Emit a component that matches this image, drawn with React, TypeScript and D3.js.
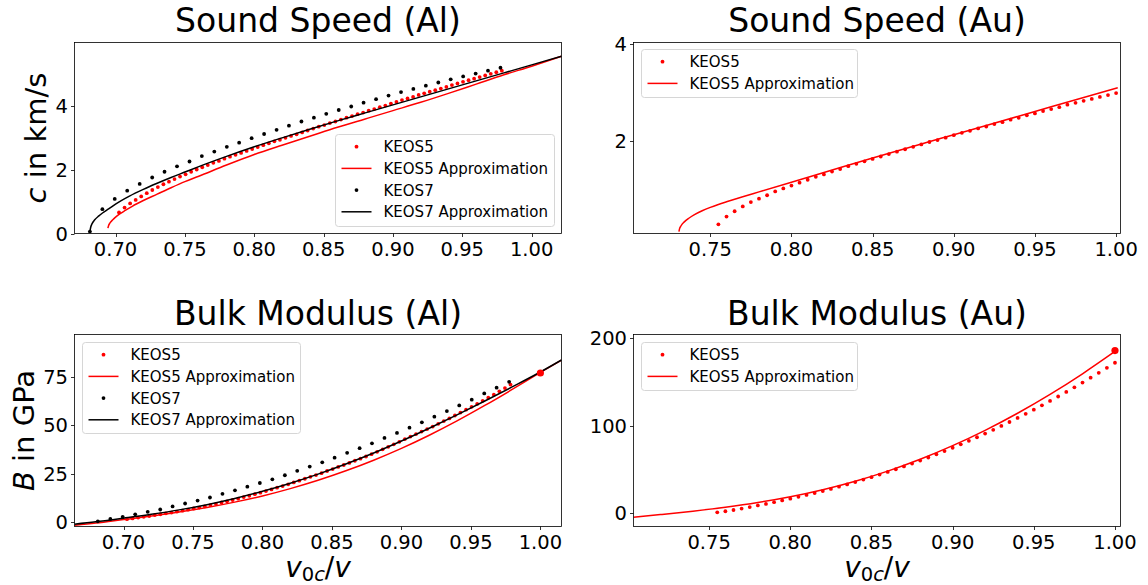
import React from "react";
import * as d3 from "d3";

// ---------------- DATA ----------------
// KEOS7 (Al) sample points
const KEOS7_X = [0.6815, 0.6905, 0.6994, 0.7084, 0.7174, 0.7264, 0.7353, 0.7443, 0.7533, 0.7622, 0.7712, 0.7802, 0.7891, 0.7981, 0.8071, 0.8161, 0.825, 0.834, 0.843, 0.8519, 0.8609, 0.8699, 0.8788, 0.8878, 0.8968, 0.9058, 0.9147, 0.9237, 0.9327, 0.9416, 0.9506, 0.9596, 0.9685, 0.9775];
const KEOS7_C = [0.06, 0.76, 1.08, 1.34, 1.55, 1.75, 1.93, 2.1, 2.25, 2.42, 2.56, 2.71, 2.84, 2.98, 3.11, 3.24, 3.37, 3.5, 3.62, 3.74, 3.86, 3.97, 4.09, 4.2, 4.31, 4.42, 4.52, 4.62, 4.72, 4.82, 4.91, 5.0, 5.09, 5.18];
const KEOS7_B = [0.3, 1.5, 2.6, 3.9, 5.2, 6.4, 8.0, 9.5, 11.0, 12.6, 14.5, 16.3, 18.2, 20.1, 22.0, 24.1, 26.4, 28.6, 30.8, 33.2, 35.7, 38.1, 40.6, 43.4, 46.0, 48.7, 51.5, 54.4, 57.3, 60.2, 63.2, 66.4, 69.4, 72.4];

// KEOS5 (Al) sample points
const AL5_X = [0.7025, 0.7065, 0.7105, 0.7145, 0.7185, 0.7225, 0.7265, 0.7305, 0.7345, 0.7385, 0.7425, 0.7465, 0.7505, 0.7545, 0.7585, 0.7625, 0.7665, 0.7705, 0.7745, 0.7785, 0.7825, 0.7865, 0.7905, 0.7945, 0.7985, 0.8025, 0.8065, 0.8105, 0.8145, 0.8185, 0.8225, 0.8265, 0.8305, 0.8345, 0.8385, 0.8425, 0.8465, 0.8505, 0.8545, 0.8585, 0.8625, 0.8665, 0.8705, 0.8745, 0.8785, 0.8825, 0.8865, 0.8905, 0.8945, 0.8985, 0.9025, 0.9065, 0.9105, 0.9145, 0.9185, 0.9225, 0.9265, 0.9305, 0.9345, 0.9385, 0.9425, 0.9465, 0.9505, 0.9545, 0.9585, 0.9625, 0.9665, 0.9705, 0.9745, 0.9785];
const AL5_C = [0.66, 0.81, 0.94, 1.05, 1.16, 1.26, 1.36, 1.45, 1.54, 1.62, 1.7, 1.78, 1.85, 1.93, 2.0, 2.07, 2.14, 2.21, 2.27, 2.34, 2.4, 2.46, 2.52, 2.58, 2.64, 2.7, 2.76, 2.82, 2.88, 2.93, 2.99, 3.05, 3.1, 3.16, 3.22, 3.28, 3.34, 3.39, 3.45, 3.5, 3.56, 3.62, 3.67, 3.73, 3.78, 3.84, 3.89, 3.95, 4.0, 4.06, 4.11, 4.17, 4.22, 4.27, 4.33, 4.38, 4.43, 4.48, 4.53, 4.58, 4.64, 4.69, 4.74, 4.79, 4.84, 4.89, 4.94, 4.99, 5.04, 5.09];
const AL5_B = [1.4, 1.8, 2.2, 2.6, 3.0, 3.5, 3.9, 4.4, 4.8, 5.3, 5.8, 6.3, 6.9, 7.4, 8.0, 8.7, 9.3, 10.0, 10.6, 11.3, 12.0, 12.8, 13.5, 14.3, 15.1, 15.9, 16.8, 17.7, 18.5, 19.4, 20.4, 21.3, 22.3, 23.3, 24.2, 25.2, 26.3, 27.3, 28.4, 29.4, 30.5, 31.6, 32.7, 33.8, 35.0, 36.2, 37.5, 38.8, 40.1, 41.4, 42.8, 44.1, 45.4, 46.7, 48.0, 49.3, 50.7, 52.1, 53.5, 55.0, 56.5, 58.0, 59.5, 61.0, 62.6, 64.2, 65.8, 67.5, 69.2, 71.0];

// KEOS5 (Au) sample points
const AU5_X = [0.755, 0.76, 0.765, 0.77, 0.775, 0.78, 0.785, 0.79, 0.795, 0.8, 0.805, 0.81, 0.815, 0.82, 0.825, 0.83, 0.835, 0.84, 0.845, 0.85, 0.855, 0.86, 0.865, 0.87, 0.875, 0.88, 0.885, 0.89, 0.895, 0.9, 0.905, 0.91, 0.915, 0.92, 0.925, 0.93, 0.935, 0.94, 0.945, 0.95, 0.955, 0.96, 0.965, 0.97, 0.975, 0.98, 0.985, 0.99, 0.995, 1.0];
const AU5_C = [0.28, 0.44, 0.55, 0.65, 0.74, 0.81, 0.88, 0.96, 1.02, 1.08, 1.14, 1.2, 1.26, 1.31, 1.37, 1.42, 1.48, 1.53, 1.58, 1.63, 1.68, 1.73, 1.78, 1.83, 1.88, 1.93, 1.98, 2.02, 2.07, 2.12, 2.17, 2.21, 2.26, 2.3, 2.35, 2.39, 2.44, 2.48, 2.53, 2.57, 2.62, 2.66, 2.7, 2.75, 2.79, 2.83, 2.87, 2.91, 2.95, 2.99];
const AU5_B = [1.0, 2.2, 3.6, 5.2, 7.0, 8.8, 10.6, 12.5, 14.5, 16.5, 18.6, 20.8, 23.0, 25.3, 27.7, 30.2, 32.8, 35.5, 38.3, 41.1, 44.0, 47.0, 50.1, 53.3, 56.6, 60.0, 63.5, 67.1, 70.8, 74.6, 78.5, 82.5, 86.6, 90.8, 95.1, 99.5, 104.0, 108.6, 113.3, 118.1, 123.0, 128.0, 133.1, 138.3, 143.6, 149.0, 154.5, 160.1, 165.8, 171.6];

// Approximation curves
const AL7_C_APX_X = [0.6815, 0.682, 0.683, 0.685, 0.688, 0.6906, 0.695, 0.7, 0.71, 0.72, 0.73, 0.74, 0.75, 0.76, 0.78, 0.8, 0.82, 0.84, 0.86, 0.88, 0.9, 0.92, 0.94, 0.96, 0.98, 1.0, 1.0215];
const AL7_C_APX_Y = [0.05, 0.18, 0.3, 0.43, 0.55, 0.64, 0.77, 0.92, 1.17, 1.38, 1.57, 1.75, 1.92, 2.09, 2.41, 2.71, 2.99, 3.26, 3.52, 3.77, 4.02, 4.27, 4.52, 4.77, 5.02, 5.27, 5.54];
const AL5_C_APX_X = [0.6945, 0.695, 0.696, 0.698, 0.7, 0.703, 0.707, 0.712, 0.72, 0.73, 0.74, 0.75, 0.76, 0.78, 0.8, 0.82, 0.84, 0.86, 0.88, 0.9, 0.92, 0.94, 0.96, 0.98, 1.0, 1.0215];
const AL5_C_APX_Y = [0.17, 0.25, 0.33, 0.43, 0.51, 0.61, 0.72, 0.85, 1.03, 1.23, 1.43, 1.62, 1.79, 2.14, 2.47, 2.76, 3.04, 3.32, 3.58, 3.84, 4.1, 4.38, 4.67, 4.96, 5.23, 5.54];
const AU5_C_APX_X = [0.7307, 0.731, 0.732, 0.734, 0.737, 0.74, 0.745, 0.75, 0.755, 0.76, 0.77, 0.78, 0.8, 0.82, 0.85, 0.88, 0.9, 0.92, 0.95, 0.98, 1.001];
const AU5_C_APX_Y = [0.13, 0.18, 0.25, 0.33, 0.41, 0.475, 0.56, 0.63, 0.69, 0.745, 0.85, 0.95, 1.15, 1.35, 1.65, 1.94, 2.13, 2.32, 2.61, 2.9, 3.1];
const AL7_B_APX_X = [0.6647, 0.68, 0.7, 0.72, 0.74, 0.76, 0.78, 0.8, 0.82, 0.84, 0.86, 0.88, 0.9, 0.92, 0.94, 0.96, 0.98, 1.0, 1.0152];
const AL7_B_APX_Y = [-1.2, 0.0, 1.9, 3.9, 6.2, 8.9, 12.1, 15.8, 20.0, 24.7, 29.9, 35.6, 41.8, 48.4, 55.3, 62.5, 69.9, 77.5, 83.7];
const AL5_B_APX_X = [0.6647, 0.68, 0.7, 0.72, 0.74, 0.76, 0.78, 0.8, 0.82, 0.84, 0.86, 0.88, 0.9, 0.92, 0.94, 0.96, 0.98, 1.0, 1.0152];
const AL5_B_APX_Y = [-1.7, -0.6, 1.2, 3.0, 5.1, 7.4, 10.2, 13.4, 17.2, 21.5, 26.4, 31.9, 38.0, 44.8, 52.2, 60.2, 68.6, 77.3, 83.7];
const AU5_B_APX_X = [0.7034, 0.72, 0.74, 0.76, 0.78, 0.8, 0.82, 0.84, 0.86, 0.88, 0.9, 0.92, 0.94, 0.96, 0.98, 1.0];
const AU5_B_APX_Y = [-4.6, -1.6, 2.3, 6.8, 12.2, 18.8, 26.8, 36.5, 48.0, 61.5, 77.0, 94.5, 114.0, 135.5, 159.0, 184.5];

// Reference points at v0c/v = 1
const AL_B_REF = [1.0, 77.0];
const AU_B_REF = [1.0, 185.5];

// Ticks
const X_TICKS_AL = [0.7, 0.75, 0.8, 0.85, 0.9, 0.95, 1.0];
const X_TICKS_AU = [0.75, 0.8, 0.85, 0.9, 0.95, 1.0];
const Y_TICKS_C_AL = [0, 2, 4];
const Y_TICKS_C_AU = [2, 4];
const Y_TICKS_B_AL = [0, 25, 50, 75];
const Y_TICKS_B_AU = [0, 100, 200];

const TITLES = ["Sound Speed (Al)", "Sound Speed (Au)", "Bulk Modulus (Al)", "Bulk Modulus (Au)"];
const LEGEND_LABELS = ["KEOS5", "KEOS5 Approximation", "KEOS7", "KEOS7 Approximation"];

// ---------------- BUILD ----------------
const zip = (xs: number[], ys: number[]) => xs.map((x, i) => [x, ys[i]] as [number, number]);

const RED = "#ff0000";
const BLACK = "#000000";
const FONT = "'DejaVu Sans', sans-serif";

type Series = { kind: "dot" | "line"; color: string; data: [number, number][]; r?: number };

const LEFT_COL = { left: 74.5, right: 561.5 };
const RIGHT_COL = { left: 633.5, right: 1120.5 };

const panels = [
  {
    box: { ...LEFT_COL, top: 42.5, bottom: 233.5 },
    xDom: [0.6704, 1.0215], yDom: [0, 5.97],
    xTicks: X_TICKS_AL, yTicks: Y_TICKS_C_AL,
    title: TITLES[0], titleY: 32,
    yLabel: "c", yLabelX: 46,
    xLabel: false,
    series: [
      { kind: "dot", color: RED, data: zip(AL5_X, AL5_C) },
      { kind: "line", color: RED, data: zip(AL5_C_APX_X, AL5_C_APX_Y) },
      { kind: "dot", color: BLACK, data: zip(KEOS7_X, KEOS7_C) },
      { kind: "line", color: BLACK, data: zip(AL7_C_APX_X, AL7_C_APX_Y) },
    ] as Series[],
    legend: { x: 335.5, y: 134.5, w: 219, h: 92, n: 4 },
  },
  {
    box: { ...RIGHT_COL, top: 42.5, bottom: 233.5 },
    xDom: [0.7027, 1.0027], yDom: [0.09, 4.035],
    xTicks: X_TICKS_AU, yTicks: Y_TICKS_C_AU,
    title: TITLES[1], titleY: 32,
    yLabel: null, yLabelX: 0,
    xLabel: false,
    series: [
      { kind: "dot", color: RED, data: zip(AU5_X, AU5_C) },
      { kind: "line", color: RED, data: zip(AU5_C_APX_X, AU5_C_APX_Y) },
    ] as Series[],
    legend: { x: 641.5, y: 49.5, w: 216, h: 48, n: 2 },
  },
  {
    box: { ...LEFT_COL, top: 334.5, bottom: 526.5 },
    xDom: [0.6647, 1.0152], yDom: [-2.4, 96.9],
    xTicks: X_TICKS_AL, yTicks: Y_TICKS_B_AL,
    title: TITLES[2], titleY: 325,
    yLabel: "B", yLabelX: 34,
    xLabel: true,
    series: [
      { kind: "dot", color: RED, data: zip(AL5_X, AL5_B) },
      { kind: "line", color: RED, data: zip(AL5_B_APX_X, AL5_B_APX_Y) },
      { kind: "dot", color: BLACK, data: zip(KEOS7_X, KEOS7_B) },
      { kind: "line", color: BLACK, data: zip(AL7_B_APX_X, AL7_B_APX_Y) },
      { kind: "dot", color: RED, data: [AL_B_REF as [number, number]], r: 3.6 },
    ] as Series[],
    legend: { x: 82.5, y: 342.5, w: 218, h: 91, n: 4 },
  },
  {
    box: { ...RIGHT_COL, top: 334.5, bottom: 526.5 },
    xDom: [0.7034, 1.0034], yDom: [-15.2, 203.8],
    xTicks: X_TICKS_AU, yTicks: Y_TICKS_B_AU,
    title: TITLES[3], titleY: 325,
    yLabel: null, yLabelX: 0,
    xLabel: true,
    series: [
      { kind: "dot", color: RED, data: zip(AU5_X, AU5_B) },
      { kind: "line", color: RED, data: zip(AU5_B_APX_X, AU5_B_APX_Y) },
      { kind: "dot", color: RED, data: [AU_B_REF as [number, number]], r: 3.6 },
    ] as Series[],
    legend: { x: 641.5, y: 342.5, w: 216, h: 48, n: 2 },
  },
];

const fmtX = (v: number) => v.toFixed(2);
const TICK_FS = 19.5;

function Panel({ p, idx }: { p: (typeof panels)[number]; idx: number }) {
  const { box } = p;
  const x = d3.scaleLinear().domain(p.xDom).range([box.left, box.right]);
  const y = d3.scaleLinear().domain(p.yDom).range([box.bottom, box.top]);
  const line = d3
    .line<[number, number]>()
    .x((d) => x(d[0]))
    .y((d) => y(d[1]))
    .curve(d3.curveMonotoneX);
  const clipId = `clip-${idx}`;
  const cx = (box.left + box.right) / 2;
  const cy = (box.top + box.bottom) / 2;
  const legendStyles: { kind: "dot" | "line"; color: string }[] = [
    { kind: "dot", color: RED },
    { kind: "line", color: RED },
    { kind: "dot", color: BLACK },
    { kind: "line", color: BLACK },
  ];
  const rowH = 21.7;
  return (
    <g>
      <defs>
        <clipPath id={clipId}>
          <rect x={box.left} y={box.top} width={box.right - box.left} height={box.bottom - box.top} />
        </clipPath>
      </defs>
      <g clipPath={`url(#${clipId})`}>
        {p.series.map((s, i) =>
          s.kind === "line" ? (
            <path key={i} d={line(s.data) || ""} fill="none" stroke={s.color} strokeWidth={1.5} />
          ) : (
            <g key={i}>
              {s.data.map((d, j) => (
                <circle key={j} cx={x(d[0])} cy={y(d[1])} r={s.r ?? 1.9} fill={s.color} />
              ))}
            </g>
          )
        )}
      </g>
      {/* spines */}
      <rect
        x={box.left}
        y={box.top}
        width={box.right - box.left}
        height={box.bottom - box.top}
        fill="none"
        stroke="#000"
        strokeWidth={0.8}
      />
      {/* x ticks */}
      {p.xTicks.map((t) => (
        <g key={`xt${t}`}>
          <line x1={Math.round(x(t)) + 0.5} x2={Math.round(x(t)) + 0.5} y1={box.bottom} y2={box.bottom + 3.5} stroke="#000" strokeWidth={0.8} />
          <text x={x(t)} y={box.bottom + 22} textAnchor="middle" fontSize={TICK_FS} fontFamily={FONT} fill="#000">
            {fmtX(t)}
          </text>
        </g>
      ))}
      {/* y ticks */}
      {p.yTicks.map((t) => (
        <g key={`yt${t}`}>
          <line x1={box.left - 3.5} x2={box.left} y1={Math.round(y(t)) + 0.5} y2={Math.round(y(t)) + 0.5} stroke="#000" strokeWidth={0.8} />
          <text x={box.left - 6.5} y={y(t)} dy="0.36em" textAnchor="end" fontSize={TICK_FS} fontFamily={FONT} fill="#000">
            {String(t)}
          </text>
        </g>
      ))}
      {/* title */}
      <text x={cx} y={p.titleY} textAnchor="middle" fontSize={33} fontFamily={FONT} fill="#000">
        {p.title}
      </text>
      {/* y label */}
      {p.yLabel && (
        <text
          transform={`translate(${p.yLabelX},${cy}) rotate(-90)`}
          textAnchor="middle"
          fontSize={29}
          fontFamily={FONT}
          fill="#000"
        >
          <tspan fontStyle="italic">{p.yLabel}</tspan>
          <tspan>{p.yLabel === "c" ? " in km/s" : " in GPa"}</tspan>
        </text>
      )}
      {/* x label */}
      {p.xLabel && (
        <text x={cx} y={577} textAnchor="middle" fontSize={28} fontFamily={FONT} fill="#000">
          <tspan fontStyle="italic">v</tspan>
          <tspan fontSize={19.5} dy={4}>0</tspan>
          <tspan fontSize={19.5} fontStyle="italic">c</tspan>
          <tspan dy={-4}>/</tspan>
          <tspan fontStyle="italic">v</tspan>
        </text>
      )}
      {/* legend */}
      <g>
        <rect
          x={p.legend.x}
          y={p.legend.y}
          width={p.legend.w}
          height={p.legend.h}
          rx={3}
          fill="#fff"
          fillOpacity={0.8}
          stroke="#d6d6d6"
          strokeWidth={1}
        />
        {LEGEND_LABELS.slice(0, p.legend.n).map((lab, i) => {
          const ry = p.legend.y + 12.2 + i * rowH;
          const lx0 = p.legend.x + 6;
          const lx1 = lx0 + 30;
          const st = legendStyles[i];
          return (
            <g key={lab}>
              {st.kind === "line" ? (
                <line x1={lx0} x2={lx1} y1={ry} y2={ry} stroke={st.color} strokeWidth={1.5} />
              ) : (
                <circle cx={(lx0 + lx1) / 2} cy={ry} r={1.9} fill={st.color} />
              )}
              <text x={lx1 + 12} y={ry} dy="0.36em" fontSize={15} fontFamily={FONT} fill="#000">
                {lab}
              </text>
            </g>
          );
        })}
      </g>
    </g>
  );
}

export default function App() {
  return (
    <svg
      width={1148}
      height={585}
      style={{ position: "absolute", left: 0, top: 0, background: "#fff" }}
      xmlns="http://www.w3.org/2000/svg"
    >
      <rect x={0} y={0} width={1148} height={585} fill="#fff" />
      {panels.map((p, i) => (
        <Panel key={i} p={p} idx={i} />
      ))}
    </svg>
  );
}
